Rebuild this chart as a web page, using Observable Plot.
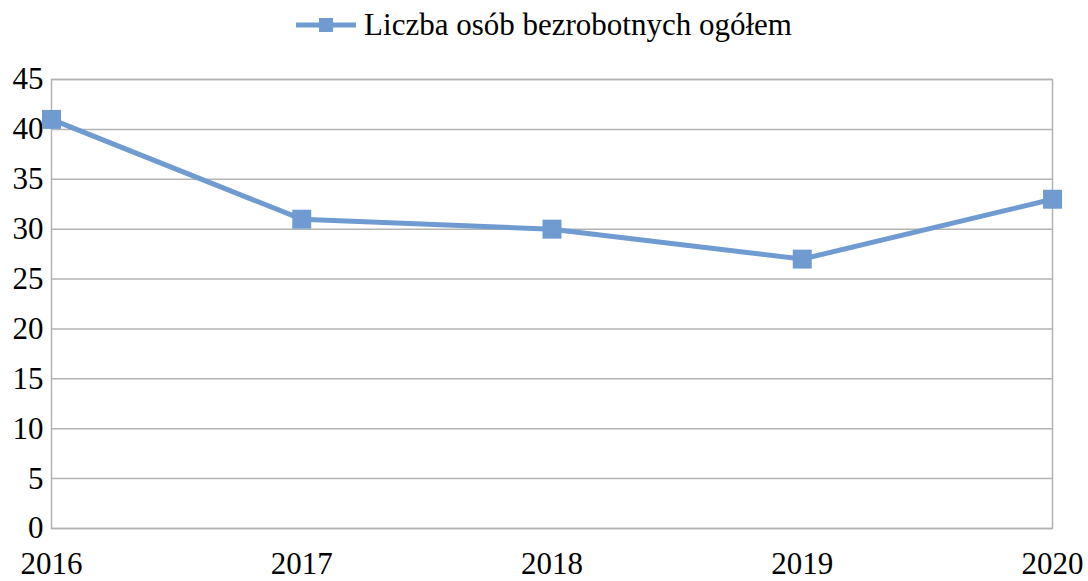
<!DOCTYPE html>
<html>
<head>
<meta charset="utf-8">
<script src="https://cdn.jsdelivr.net/npm/d3@7"></script>
<script src="https://cdn.jsdelivr.net/npm/@observablehq/plot@0.6"></script>
<style>
  html, body { margin: 0; padding: 0; background: #fff; }
  #legend { height: 50px; display: flex; justify-content: center; align-items: center; font-family: "Liberation Serif", "Times New Roman", serif; font-size: 31px; color: #000; }
  #legend svg { margin-right: 8px; }
</style>
</head>
<body>
<div id="legend"></div>
<div id="chart"></div>
<script>
const seriesName = "Liczba osób bezrobotnych ogółem";
const years = [2016, 2017, 2018, 2019, 2020];
const values = [41, 31, 30, 27, 33];
const yTicks = [0, 5, 10, 15, 20, 25, 30, 35, 40, 45];
const lineColor = "#6f9bd1";

const data = years.map((y, i) => ({year: y, value: values[i]}));

// Legend
const legend = document.getElementById("legend");
legend.innerHTML = `<svg width="60" height="20"><line x1="0" y1="10" x2="60" y2="10" stroke="${lineColor}" stroke-width="5"/><rect x="23" y="3" width="14" height="14" fill="${lineColor}"/></svg><span>${seriesName}</span>`;

const chart = Plot.plot({
  width: 1088,
  height: 531,
  marginTop: 29,
  marginBottom: 53,
  marginLeft: 51,
  marginRight: 36,
  style: {fontFamily: "'Liberation Serif', 'Times New Roman', serif", fontSize: "31px", color: "#000", background: "#fff", overflow: "visible"},
  x: {domain: [2016, 2020], label: null},
  y: {domain: [0, 45], label: null},
  marks: [
    Plot.gridY(yTicks, {stroke: "#b3b3b3", strokeOpacity: 1, strokeWidth: 1.5}),
    Plot.frame({stroke: "#b3b3b3", strokeWidth: 1.5}),
    Plot.axisY({ticks: yTicks, tickSize: 0, tickPadding: 8, label: null, fontSize: 31}),
    Plot.axisX({ticks: years, tickFormat: "d", tickSize: 0, tickPadding: 23, label: null, fontSize: 31}),
    Plot.line(data, {x: "year", y: "value", stroke: lineColor, strokeWidth: 5}),
    Plot.dot(data, {x: "year", y: "value", symbol: "square", r: 10.7, fill: lineColor, stroke: "none"})
  ]
});
document.getElementById("chart").appendChild(chart);
</script>
</body>
</html>
